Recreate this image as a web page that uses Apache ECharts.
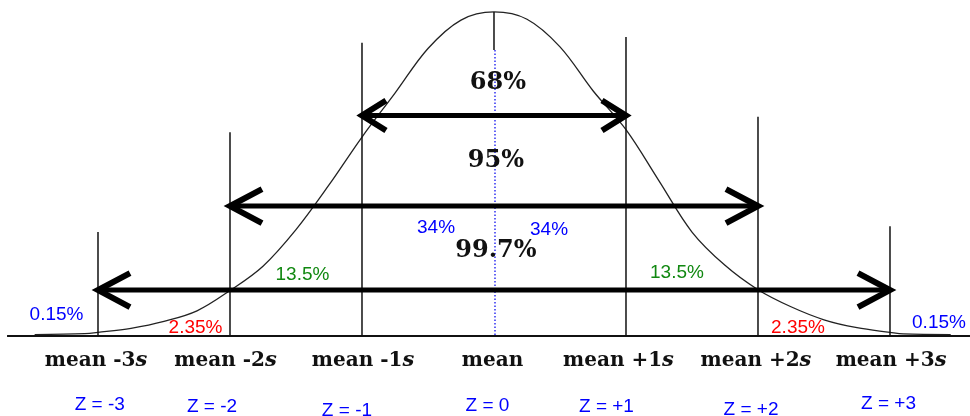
<!DOCTYPE html>
<html><head><meta charset="utf-8">
<script src="https://cdn.jsdelivr.net/npm/echarts@6/dist/echarts.min.js"></script>
<style>html,body{margin:0;padding:0;background:#fff}#c{width:970px;height:416px}</style>
</head><body><div id="c"></div>
<script>
// ---------------- data ----------------
// normal curve: x in standard deviations, y = probability density
const curveX = [-3.48,-3.1,-3,-2.75,-2.5,-2.25,-2,-1.75,-1.5,-1.25,-1,-0.75,-0.5,-0.25,0,0.25,0.5,0.75,1,1.25,1.5,1.75,2,2.25,2.5,2.75,3,3.1,3.46];
const curveY = [0.0018,0.003,0.0045,0.0095,0.018,0.031,0.056,0.086,0.131,0.186,0.245,0.299,0.354,0.389,0.399,0.390,0.356,0.302,0.254,0.191,0.128,0.087,0.057,0.036,0.020,0.0102,0.0045,0.0025,0.0018];
const sdTicks = [-3,-2,-1,0,1,2,3];
const sdLineTops = [0.128,0.251,0.361,0.399,0.368,0.270,0.135];
const meanSolidEnd = 0.352;
const sdNames = ['mean -3','mean -2','mean -1','mean','mean +1','mean +2','mean +3'];
const zNames = ['Z = -3','Z = -2','Z = -1','Z = 0','Z = +1','Z = +2','Z = +3'];
const ruleNames = ['68%','95%','99.7%'];
const ruleFrom = [-1,-2,-3];
const ruleTo = [1,2,3];
const ruleLevel = [0.2715,0.160,0.0566];
const areaNames = ['0.15%','2.35%','13.5%','34%','34%','13.5%','2.35%','0.15%'];
const baselineX = [-3.689,3.606];

// ---------------- layout (label anchors, data units) ----------------
const ruleLabelAt = [[0.03,0.3116],[0.015,0.2156],[0.015,0.1048]];
const areaLabelAt = [[-3.314,0.0265],[-2.261,0.0105],[-1.451,0.0751],[-0.439,0.133],[0.417,0.1305],[1.386,0.0782],[2.303,0.0105],[3.371,0.0166]];
const areaColors = ['#0000ff','#ff0000','#118811','#0000ff','#0000ff','#118811','#ff0000','#0000ff'];
const sdNameX = [-3.015,-2.034,-0.992,-0.011,0.943,1.985,3.008];
const sdNameY = -0.0308;
const zNameAt = [[-2.987,-0.0843],[-2.136,-0.0874],[-1.114,-0.0917],[-0.049,-0.0862],[0.852,-0.0874],[1.947,-0.0911],[2.989,-0.0831]];

const chart = echarts.init(document.getElementById('c'), null, {renderer:'canvas'});

const textItems = [];
ruleNames.forEach((t,i)=>textItems.push([ruleLabelAt[i][0], ruleLabelAt[i][1], 0, i]));
areaNames.forEach((t,i)=>textItems.push([areaLabelAt[i][0], areaLabelAt[i][1], 1, i]));
sdNames.forEach((t,i)=>textItems.push([sdNameX[i], sdNameY, 2, i]));
zNames.forEach((t,i)=>textItems.push([zNameAt[i][0], zNameAt[i][1], 3, i]));

const option = {
  animation:false,
  backgroundColor:'#fff',
  grid:{left:0,right:0,top:0,bottom:0},
  xAxis:{type:'value',min:-3.7424,max:3.6061,show:false},
  yAxis:{type:'value',min:-0.0985,max:0.4137,show:false},
  series:[
    {type:'line',name:'baseline',data:[[baselineX[0],0],[baselineX[1],0]],symbol:'none',
      lineStyle:{color:'#111',width:2},silent:true,z:2},
    {type:'line',name:'curve',data:curveX.map((x,i)=>[x,curveY[i]]),smooth:0.35,symbol:'none',
      lineStyle:{color:'#222',width:1.3},silent:true,z:3},
    {type:'custom',name:'sd lines',clip:false,silent:true,z:4,
      data:sdTicks.map((z,i)=>[z,sdLineTops[i]]),
      renderItem(params,api){
        const z=api.value(0), top=api.value(1);
        const p0=api.coord([z,0]), p1=api.coord([z,top]);
        if(z===0){
          const pm=api.coord([z,meanSolidEnd]);
          return {type:'group',children:[
            {type:'line',shape:{x1:p1[0],y1:p1[1],x2:pm[0],y2:pm[1]},style:{stroke:'#111',lineWidth:1.5}},
            {type:'line',shape:{x1:pm[0]+1,y1:pm[1],x2:p0[0]+1,y2:p0[1]},style:{stroke:'#1010ee',lineWidth:1.3,lineDash:[1.5,2]}}
          ]};
        }
        return {type:'line',shape:{x1:p0[0],y1:p0[1],x2:p1[0],y2:p1[1]},style:{stroke:'#111',lineWidth:1.5}};
      }},
    {type:'custom',name:'arrows',clip:false,silent:true,z:5,
      data:ruleFrom.map((f,i)=>[f,ruleLevel[i],ruleTo[i]]),
      renderItem(params,api){
        const y=api.value(1);
        const a=api.coord([api.value(0),y]), b=api.coord([api.value(2),y]);
        const dx=params.dataIndex===0?24:32, dy=params.dataIndex===0?15:17;
        const st={stroke:'#000',lineWidth:6,fill:null,lineJoin:'miter'};
        return {type:'group',children:[
          {type:'line',shape:{x1:a[0]+2,y1:a[1],x2:b[0]-2,y2:b[1]},style:{stroke:'#000',lineWidth:5}},
          {type:'polyline',shape:{points:[[a[0]+dx,a[1]-dy],[a[0],a[1]],[a[0]+dx,a[1]+dy]]},style:st},
          {type:'polyline',shape:{points:[[b[0]-dx,b[1]-dy],[b[0],b[1]],[b[0]-dx,b[1]+dy]]},style:st}
        ]};
      }},
    {type:'custom',name:'labels',clip:false,silent:true,z:6,
      data:textItems,
      renderItem(params,api){
        const p=api.coord([api.value(0),api.value(1)]);
        const kind=api.value(2), i=api.value(3);
        let style;
        if(kind===0){
          style={text:ruleNames[i],fill:'#111',font:'bold 24px "DejaVu Serif"'};
        }else if(kind===1){
          style={text:areaNames[i],fill:areaColors[i],font:'19px "Liberation Sans", Arial, sans-serif'};
        }else if(kind===2){
          style={text:'{m|'+sdNames[i]+'}'+(sdTicks[i]===0?'':'{s|s}'),
            rich:{m:{fill:'#111',font:'bold 20px "DejaVu Serif"'},s:{fill:'#111',font:'italic bold 21px "DejaVu Serif"'}}};
        }else{
          style={text:zNames[i],fill:'#0000ff',font:'19px "Liberation Sans", Arial, sans-serif'};
        }
        style.align='center'; style.verticalAlign='middle';
        return {type:'text',x:p[0],y:p[1],style};
      }}
  ]
};
chart.setOption(option);
</script></body></html>
